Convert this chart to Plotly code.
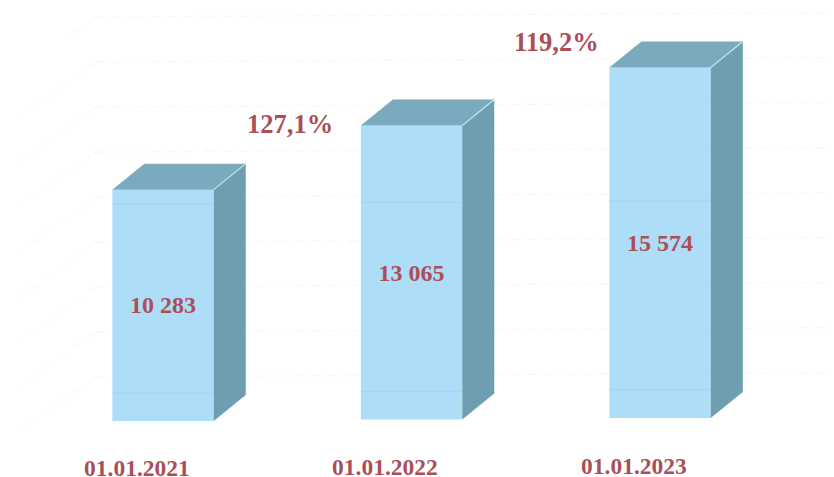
import plotly.graph_objects as go

# --- data ---
dates = ["01.01.2021", "01.01.2022", "01.01.2023"]
values = [10283, 13065, 15574]
value_labels = ["10 283", "13 065", "15 574"]
growth_labels = ["127,1%", "119,2%"]
grid_levels = [2000, 4000, 6000, 8000, 10000, 12000, 14000, 16000, 18000]
band_levels = [1250, 9650]

# --- styling / geometry ---
FRONT, SIDE, TOP, EDGE = "#AEDDF8", "#6E9FB1", "#7BA9BD", "#BFE5F6"
TEXT = "#AB4F57"
FONT = "Liberation Serif"
BAR_W, DX, DY = 0.408, 0.129, 1155
TILT = 67            # scan skew of the page, in value units per category
GRID_SHIFT = -30
idx = list(range(len(values)))
base = [TILT * i for i in idx]

fig = go.Figure()

# back wall and floor guide lines (very faint, behind the bars)
shapes = []
WALL_L, WALL_R = -0.27, 2.68
for k, level in enumerate(grid_levels):
    y_left = level + GRID_SHIFT + TILT * WALL_L
    y_right = level + GRID_SHIFT + TILT * WALL_R
    line = dict(color="#F6F6F6", width=1, dash="dash")
    shapes.append(dict(type="line", layer="below", xref="x", yref="y",
                       x0=WALL_L, x1=WALL_R, y0=y_left, y1=y_right, line=line))
    run = 0.12 if k == len(grid_levels) - 1 else 0.30
    drop = run * 248.5 * 0.72 / 0.0225
    shapes.append(dict(type="line", layer="below", xref="x", yref="y",
                       x0=WALL_L, x1=WALL_L - run, y0=y_left, y1=y_left - drop, line=line))

# front faces
fig.add_trace(go.Bar(
    x=idx, y=values, base=base, width=BAR_W,
    marker=dict(color=FRONT, line=dict(width=0)),
    text=value_labels, textposition="inside", insidetextanchor="middle",
    textangle=0, constraintext="none",
    textfont=dict(family=FONT, size=24, color=TEXT, weight="bold"),
    hoverinfo="skip", showlegend=False,
))

# side and top faces, faint bands, highlight edge
for i, v, b in zip(idx, values, base):
    xl, xr = i - BAR_W / 2, i + BAR_W / 2
    t = b + v
    fig.add_trace(go.Scatter(
        x=[xr, xr + DX, xr + DX, xr, xr], y=[b, b + DY, t + DY, t, b],
        mode="lines", fill="toself", fillcolor=SIDE, line=dict(width=0),
        hoverinfo="skip", showlegend=False))
    fig.add_trace(go.Scatter(
        x=[xl, xl + DX, xr + DX, xr, xl], y=[t, t + DY, t + DY, t, t],
        mode="lines", fill="toself", fillcolor=TOP, line=dict(width=0),
        hoverinfo="skip", showlegend=False))
    fig.add_trace(go.Scatter(
        x=[xr, xr + DX], y=[t, t + DY], mode="lines",
        line=dict(color=EDGE, width=1.2), hoverinfo="skip", showlegend=False))
    for lv in band_levels:
        fig.add_trace(go.Scatter(
            x=[xl, xr], y=[b + lv, b + lv], mode="lines",
            line=dict(color="#A6D2F6", width=1), hoverinfo="skip", showlegend=False))

# text labels placed in data coordinates
common = dict(xref="x", yref="y", showarrow=False, xanchor="center", yanchor="middle")
date_x_offset = -0.105
date_y = -2090
annotations = [
    dict(x=i + date_x_offset, y=date_y + b * 0.6, text=f"<b>{d}</b>",
         font=dict(family=FONT, size=23.5, color=TEXT), **common)
    for i, d, b in zip(idx, dates, base)
]
growth_pos = [(0.51, 13200), (1.585, 16840)]
annotations += [
    dict(x=p[0], y=p[1], text=f"<b>{g}</b>",
         font=dict(family=FONT, size=26.5, color=TEXT), **common)
    for g, p in zip(growth_labels, growth_pos)
]

# the page keeps an 8 px body margin, so the figure covers the remaining 826 x 469
fig.update_layout(
    width=826, height=469, margin=dict(l=0, r=0, t=0, b=0),
    paper_bgcolor="#FFFFFF", plot_bgcolor="#FFFFFF",
    showlegend=False, barmode="overlay", hovermode=False,
    xaxis=dict(visible=False, range=[-0.6237, 2.70], fixedrange=True),
    yaxis=dict(visible=False, range=[-2489, 18356], fixedrange=True),
    shapes=shapes, annotations=annotations,
)
fig.write_html("out.html", config={"displayModeBar": False})
